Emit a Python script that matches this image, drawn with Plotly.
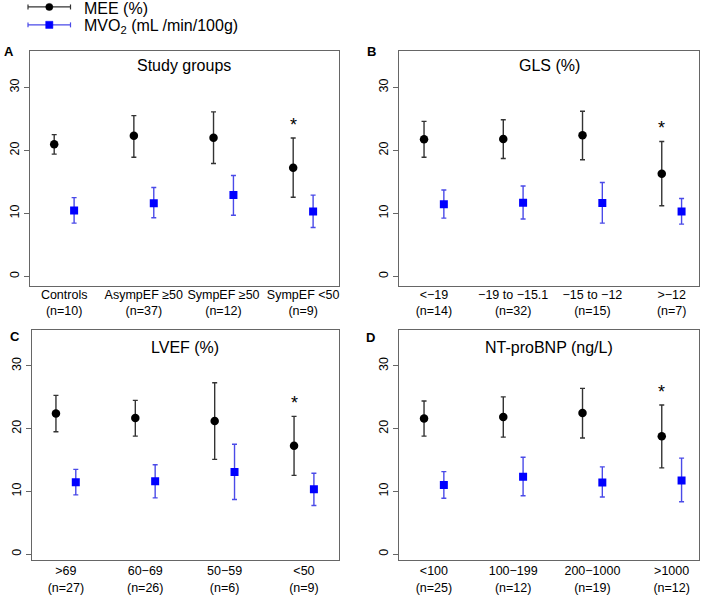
import plotly.graph_objects as go

# ---------------- data ----------------
cats_A = ["Controls", "AsympEF \u226550", "SympEF \u226550", "SympEF <50"]
n_A = [10, 37, 12, 9]
mee_A = [20.95, 22.3, 22.0, 17.25]
mee_A_hi = [22.5, 25.5, 26.1, 21.95]
mee_A_lo = [19.4, 18.9, 17.9, 12.55]
mvo_A = [10.45, 11.6, 12.9, 10.3]
mvo_A_hi = [12.5, 14.1, 16.0, 12.9]
mvo_A_lo = [8.45, 9.3, 9.7, 7.75]

cats_B = ["<\u221219", "\u221219 to \u221215.1", "\u221215 to \u221212", ">\u221212"]
n_B = [14, 32, 15, 7]
mee_B = [21.75, 21.8, 22.4, 16.3]
mee_B_hi = [24.6, 24.85, 26.2, 21.4]
mee_B_lo = [18.9, 18.7, 18.5, 11.2]
mvo_B = [11.45, 11.7, 11.65, 10.3]
mvo_B_hi = [13.7, 14.35, 14.9, 12.35]
mvo_B_lo = [9.25, 9.1, 8.45, 8.3]

cats_C = [">69", "60\u221269", "50\u221259", "<50"]
n_C = [27, 26, 6, 9]
mee_C = [22.4, 21.7, 21.2, 17.25]
mee_C_hi = [25.3, 24.5, 27.3, 21.95]
mee_C_lo = [19.5, 18.8, 15.1, 12.55]
mvo_C = [11.45, 11.6, 13.1, 10.35]
mvo_C_hi = [13.5, 14.25, 17.5, 12.9]
mvo_C_lo = [9.45, 8.97, 8.7, 7.75]

cats_D = ["<100", "100\u2212199", "200\u22121000", ">1000"]
n_D = [25, 12, 19, 12]
mee_D = [21.6, 21.85, 22.5, 18.8]
mee_D_hi = [24.4, 25.05, 26.4, 23.75]
mee_D_lo = [18.8, 18.65, 18.5, 13.75]
mvo_D = [11.0, 12.35, 11.4, 11.75]
mvo_D_hi = [13.15, 15.45, 13.9, 15.3]
mvo_D_lo = [8.9, 9.3, 9.1, 8.35]

titles = ["Study groups", "GLS (%)", "LVEF (%)", "NT-proBNP (ng/L)"]
letters = ["A", "B", "C", "D"]
significant_group = [3, 3, 3, 3]   # index of group marked with *
y_ticks = [0, 10, 20, 30]

# ---------------- layout geometry (pixels) ----------------
W, H = 709, 595
FONT = "Liberation Sans, Arial, sans-serif"
def px(x): return x / W
def py(y): return 1 - y / H

panels = [
    dict(cats=cats_A, n=n_A, mee=mee_A, mhi=mee_A_hi, mlo=mee_A_lo, mvo=mvo_A, vhi=mvo_A_hi, vlo=mvo_A_lo,
         box=(29.5, 51, 339, 287), xr=[0.69, 4.575], yr=[-1.45, 35.8], title_y=66, letter=(8.5, 51.5), stand=-3),
    dict(cats=cats_B, n=n_B, mee=mee_B, mhi=mee_B_hi, mlo=mee_B_lo, mvo=mvo_B, vhi=mvo_B_hi, vlo=mvo_B_lo,
         box=(399, 51, 699, 287), xr=[0.684, 4.47], yr=[-1.45, 35.8], title_y=66, letter=(371, 51.5), stand=-3),
    dict(cats=cats_C, n=n_C, mee=mee_C, mhi=mee_C_hi, mlo=mee_C_lo, mvo=mvo_C, vhi=mvo_C_hi, vlo=mvo_C_lo,
         box=(31.5, 331.7, 338.5, 563.3), xr=[0.692, 4.56], yr=[-1.0, 35.7], title_y=349, letter=(15, 338), stand=-1),
    dict(cats=cats_D, n=n_D, mee=mee_D, mhi=mee_D_hi, mlo=mee_D_lo, mvo=mvo_D, vhi=mvo_D_hi, vlo=mvo_D_lo,
         box=(399, 331.7, 699, 563.3), xr=[0.684, 4.47], yr=[-1.0, 35.7], title_y=349, letter=(370.5, 339), stand=-1),
]

BLACK_BAR = "#333333"
BLUE = "#0000ff"
BLUE_BAR = "#4a4ae8"
OFFSET = 0.25

fig = go.Figure()
annotations = []
shapes = []
layout_axes = {}

for i, p in enumerate(panels):
    k = "" if i == 0 else str(i + 1)
    xa, ya = "x" + k, "y" + k
    ng = len(p["cats"])
    xb = [j + 1 for j in range(ng)]
    xv = [j + 1 + OFFSET for j in range(ng)]
    fig.add_trace(go.Scatter(
        x=xb, y=p["mee"], xaxis=xa, yaxis=ya, mode="markers", showlegend=False,
        marker=dict(symbol="circle", size=8.5, color="black"),
        error_y=dict(type="data", symmetric=False,
                     array=[h - v for h, v in zip(p["mhi"], p["mee"])],
                     arrayminus=[v - l for v, l in zip(p["mee"], p["mlo"])],
                     color=BLACK_BAR, thickness=1.4, width=2.5)))
    fig.add_trace(go.Scatter(
        x=xv, y=p["mvo"], xaxis=xa, yaxis=ya, mode="markers", showlegend=False,
        marker=dict(symbol="square", size=8, color=BLUE),
        error_y=dict(type="data", symmetric=False,
                     array=[h - v for h, v in zip(p["vhi"], p["mvo"])],
                     arrayminus=[v - l for v, l in zip(p["mvo"], p["vlo"])],
                     color=BLUE_BAR, thickness=1.4, width=2.5)))
    x0, y0, x1, y1 = p["box"]
    axis_name_x = "xaxis" + k
    axis_name_y = "yaxis" + k
    layout_axes[axis_name_x] = dict(
        domain=[px(x0), px(x1)], anchor=ya, range=p["xr"],
        tickvals=[j + 1 + OFFSET / 2 for j in range(ng)],
        ticktext=[f"{c}<br>(n={n})" for c, n in zip(p["cats"], p["n"])],
        showgrid=False, zeroline=False, showline=True, mirror=True,
        linecolor="#666666", linewidth=1, ticks="", ticklabelstandoff=p["stand"],
        tickfont=dict(family=FONT, size=12.5, color="black"),
        fixedrange=True)
    layout_axes[axis_name_y] = dict(
        domain=[py(y1), py(y0)], anchor=xa, range=p["yr"],
        tickvals=y_ticks, tickangle=-90,
        showgrid=False, zeroline=False, showline=True, mirror=True,
        linecolor="#666666", linewidth=1, ticks="outside", ticklen=5,
        tickcolor="#666666",
        tickfont=dict(family=FONT, size=12.5, color="black"),
        fixedrange=True)
    # panel title
    annotations.append(dict(text=titles[i], x=px((x0 + x1) / 2), y=py(p["title_y"]),
                            xref="paper", yref="paper", showarrow=False,
                            xanchor="center", yanchor="middle",
                            font=dict(family=FONT, size=16, color="black")))
    # panel letter
    lx, ly = p["letter"]
    annotations.append(dict(text="<b>" + letters[i] + "</b>", x=px(lx), y=py(ly),
                            xref="paper", yref="paper", showarrow=False,
                            xanchor="center", yanchor="middle",
                            font=dict(family=FONT, size=13, color="black")))
    # significance star
    g = significant_group[i]
    annotations.append(dict(text="*", x=xb[g], y=p["mhi"][g] + 2.9, xref=xa, yref=ya,
                            showarrow=False, xanchor="center", yanchor="middle", yshift=-5,
                            font=dict(family=FONT, size=18, color="black")))

# ---------------- manual legend ----------------
leg_rows = [("MEE (%)", BLACK_BAR, "black", "circle", 7, 9),
            ("MVO<sub>2</sub> (mL /min/100g)", BLUE_BAR, BLUE, "square", 25, 26.5)]
for label, lc, mc, sym, yy, ty in leg_rows:
    shapes.append(dict(type="line", xref="paper", yref="paper",
                       x0=px(28), x1=px(70.5), y0=py(yy), y1=py(yy),
                       line=dict(color=lc, width=1.2)))
    for cx in (28, 70.5):
        shapes.append(dict(type="line", xref="paper", yref="paper",
                           x0=px(cx), x1=px(cx), y0=py(yy - 2.5), y1=py(yy + 2.5),
                           line=dict(color=lc, width=1.2)))
    r = 3.6
    shapes.append(dict(type="circle" if sym == "circle" else "rect", xref="paper", yref="paper",
                       x0=px(49.3 - r), x1=px(49.3 + r), y0=py(yy - r), y1=py(yy + r),
                       fillcolor=mc, line=dict(color=mc, width=0.5)))
    annotations.append(dict(text=label, x=px(82), y=py(ty), xref="paper", yref="paper",
                            showarrow=False, xanchor="left", yanchor="middle",
                            font=dict(family=FONT, size=16, color="black")))

fig.update_layout(
    width=W, height=H, margin=dict(l=0, r=0, t=0, b=0),
    paper_bgcolor="white", plot_bgcolor="white",
    showlegend=False, annotations=annotations, shapes=shapes,
    **layout_axes)

fig.write_html("out.html", config={"displayModeBar": False},
               post_script="document.body.style.margin='0px';document.body.style.padding='0px';")
